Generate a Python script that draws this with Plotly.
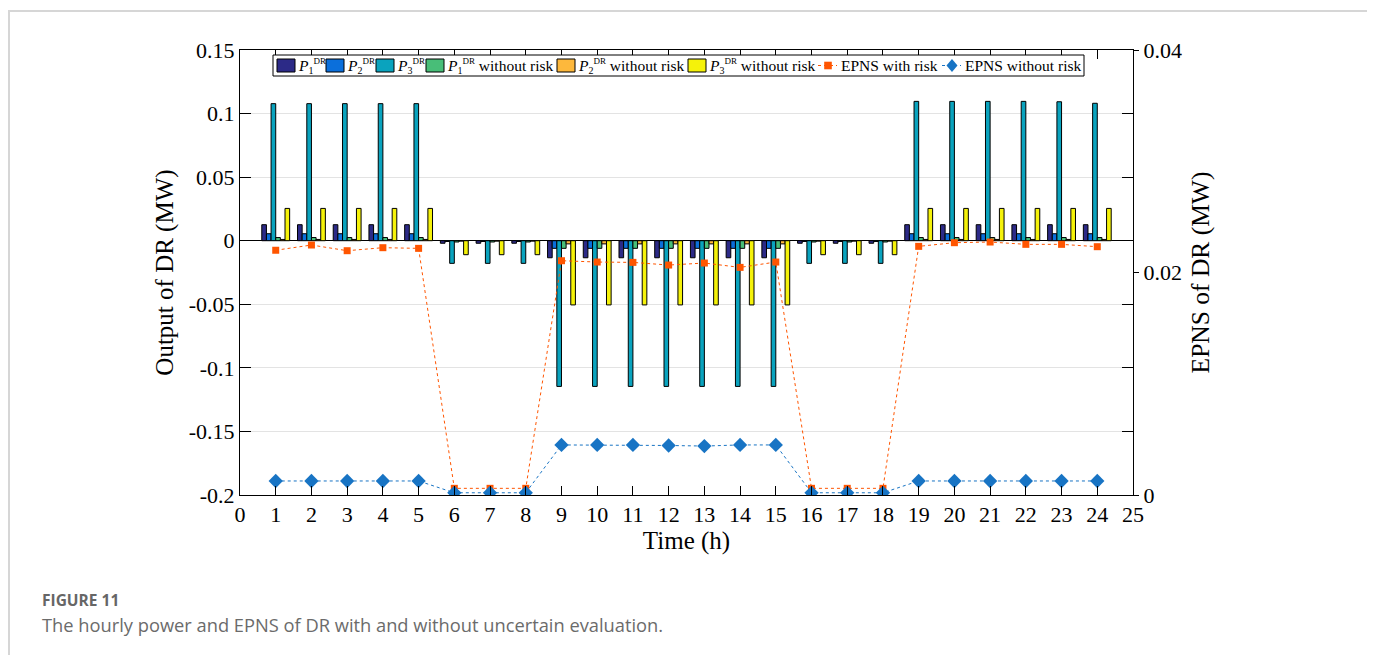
import plotly.graph_objects as go

hours = list(range(1, 25))

p1_dr = [0.0126]*5 + [-0.002]*3 + [-0.0134]*7 + [-0.002]*3 + [0.0126]*6
p2_dr = [0.0055]*5 + [-0.0006]*3 + [-0.006]*7 + [-0.0006]*3 + [0.0055]*6
p3_dr = [0.1078]*5 + [-0.0178]*3 + [-0.1146]*7 + [-0.0178]*3 + [0.1096, 0.1096, 0.1096, 0.1096, 0.1093, 0.1081]
p1_wo = [0.0025]*5 + [-0.001]*3 + [-0.006]*7 + [-0.001]*3 + [0.0025]*6
p2_wo = [0.001]*5 + [-0.0003]*3 + [-0.0025]*7 + [-0.0003]*3 + [0.001]*6
p3_wo = [0.0254]*5 + [-0.011]*3 + [-0.0505]*7 + [-0.011]*3 + [0.0254]*6

epns_risk = [0.0220, 0.02247, 0.02196, 0.02223, 0.02217,
             0.0006, 0.0006, 0.0006,
             0.02106, 0.02094, 0.02091, 0.02067, 0.02085, 0.02046, 0.02094,
             0.0006, 0.0006, 0.0006,
             0.02235, 0.02268, 0.02274, 0.02253, 0.02253, 0.02232]
epns_norisk = [0.00126]*5 + [0.0002]*3 + [0.0045, 0.0045, 0.0045, 0.00445, 0.0044, 0.0045, 0.0045] + [0.0002]*3 + [0.00126]*6

left_ticks = [-0.2, -0.15, -0.1, -0.05, 0, 0.05, 0.1, 0.15]
left_labels = ["-0.2", "-0.15", "-0.1", "-0.05", "0", "0.05", "0.1", "0.15"]
right_ticks = [0, 0.02, 0.04]
right_labels = ["0", "0.02", "0.04"]
x_ticks = list(range(0, 26))

FONT = "Liberation Serif"

def p_label(i, suffix=""):
    return ("<i>P</i><sub><span style=\"font-size:10px\">{}</span></sub>"
            "<sup><span style=\"font-size:9px\">DR</span></sup>{}").format(i, suffix)

bar_names = [p_label(1), p_label(2), p_label(3),
             p_label(1, " without risk"), p_label(2, " without risk"), p_label(3, " without risk")]
bar_values = [p1_dr, p2_dr, p3_dr, p1_wo, p2_wo, p3_wo]
bar_colors = ["#2C2A87", "#0B6FDB", "#0AA3BE", "#48BE78", "#FDB83C", "#F5F20A"]
line_names = ["EPNS with risk", "EPNS without risk"]
line_colors = ["#FF5500", "#1874C4"]

fig = go.Figure()
for name, vals, col in zip(bar_names, bar_values, bar_colors):
    fig.add_trace(go.Bar(x=hours, y=vals, name=name, showlegend=False,
                         marker=dict(color=col, line=dict(color="black", width=1)), yaxis="y"))

fig.add_trace(go.Scatter(x=hours, y=epns_risk, name=line_names[0], yaxis="y2", mode="lines+markers", showlegend=False,
                         line=dict(color=line_colors[0], width=1, dash="dot"),
                         marker=dict(symbol="square", size=7, color=line_colors[0])))
fig.add_trace(go.Scatter(x=hours, y=epns_norisk, name=line_names[1], yaxis="y2", mode="lines+markers", showlegend=False,
                         line=dict(color=line_colors[1], width=1, dash="dot"),
                         marker=dict(symbol="diamond", size=11, color=line_colors[1])))

# page has an 8px body margin; screen coordinates below are converted to figure/paper coords
OFF = 8
W, H = 1375, 655
L, R, T, B = 232, 250, 42, 168
pw, ph = W - L - R, H - T - B

def px(sx):
    return (sx - OFF - L) / pw

def py(sy):
    return (H - B - (sy - OFF)) / ph

fig.update_layout(
    width=W, height=H,
    margin=dict(l=L, r=R, t=T, b=B, autoexpand=False),
    paper_bgcolor="white", plot_bgcolor="white",
    barmode="group", bargap=0.22, bargroupgap=0,
    font=dict(family=FONT, color="black"),
    showlegend=False,
    xaxis=dict(range=[0, 25], tickvals=x_ticks, ticktext=[str(v) for v in x_ticks],
               ticks="inside", ticklen=9, tickcolor="black", showline=True, linecolor="black",
               linewidth=1, mirror="ticks", showgrid=False, zeroline=False,
               tickfont=dict(family=FONT, size=22),
               title=dict(text="Time (h)", font=dict(family=FONT, size=25), standoff=4)),
    yaxis=dict(range=[-0.2, 0.15], tickvals=left_ticks, ticktext=left_labels,
               ticks="inside", ticklen=11, tickcolor="black", showline=True, linecolor="black",
               linewidth=1, mirror="ticks", showgrid=True, gridcolor="#E3E3E3",
               zeroline=True, zerolinecolor="black", zerolinewidth=1,
               tickfont=dict(family=FONT, size=22),
               title=dict(text="Output of DR (MW)", font=dict(family=FONT, size=25), standoff=8)),
    yaxis2=dict(range=[0, 0.04], tickvals=right_ticks, ticktext=right_labels, overlaying="y", side="right",
                ticks="outside", ticklen=5, tickcolor="black", showline=True, linecolor="black",
                showgrid=False, zeroline=False,
                tickfont=dict(family=FONT, size=22),
                title=dict(text="EPNS of DR (MW)", font=dict(family=FONT, size=25.5), standoff=10)),
)

# card border
fig.add_shape(type="rect", xref="paper", yref="paper",
              x0=px(9), x1=px(1369), y0=py(11), y1=py(720),
              line=dict(color="#D6D6D6", width=2), fillcolor="rgba(0,0,0,0)", layer="below")

# legend box (drawn manually to match the compact layout of the original)
fig.add_shape(type="rect", xref="paper", yref="paper", x0=px(273), x1=px(1084), y0=py(55), y1=py(76),
              line=dict(color="black", width=1), fillcolor="white", layer="above")
LY = 66
sw_x = [277, 326, 376, 426, 557, 688]
for sx, col, name in zip(sw_x, bar_colors, bar_names):
    fig.add_shape(type="rect", xref="paper", yref="paper", x0=px(sx), x1=px(sx + 18), y0=py(59), y1=py(72),
                  line=dict(color="black", width=1), fillcolor=col, layer="above")
    fig.add_annotation(xref="paper", yref="paper", x=px(sx + 19), y=py(LY), xanchor="left", yanchor="middle",
                       text=name, showarrow=False, font=dict(family=FONT, size=15.5, color="black"))
ln_x = [818, 942]
for i, (sx, col, name) in enumerate(zip(ln_x, line_colors, line_names)):
    fig.add_shape(type="line", xref="paper", yref="paper", x0=px(sx), x1=px(sx + 19), y0=py(65.5), y1=py(65.5),
                  line=dict(color=col, width=1, dash="dot"), layer="above")
    cx = sx + 10
    if i == 0:
        fig.add_shape(type="rect", xref="paper", yref="paper", x0=px(cx - 3.8), x1=px(cx + 3.8),
                      y0=py(65.5 - 3.8), y1=py(65.5 + 3.8), line=dict(width=0), fillcolor=col, layer="above")
    else:
        path = "M {:.5f},{:.5f} L {:.5f},{:.5f} L {:.5f},{:.5f} L {:.5f},{:.5f} Z".format(
            px(cx), py(65.5 - 6.5), px(cx + 5.5), py(65.5), px(cx), py(65.5 + 6.5), px(cx - 5.5), py(65.5))
        fig.add_shape(type="path", xref="paper", yref="paper", path=path,
                      line=dict(width=0), fillcolor=col, layer="above")
    fig.add_annotation(xref="paper", yref="paper", x=px(sx + 21), y=py(LY), xanchor="left", yanchor="middle",
                       text=name, showarrow=False, font=dict(family=FONT, size=15.5, color="black"))

# caption
fig.add_annotation(xref="paper", yref="paper", x=px(40), y=py(600), xanchor="left", yanchor="middle",
                   text="<b>FIGURE 11</b>", showarrow=False,
                   font=dict(family="Open Sans", size=15.5, color="#666666"))
fig.add_annotation(xref="paper", yref="paper", x=px(40), y=py(624), xanchor="left", yanchor="middle",
                   text="The hourly power and EPNS of DR with and without uncertain evaluation.", showarrow=False,
                   font=dict(family="Open Sans", size=18.3, color="#6B6B6B"))

fig.write_html("out.html")
